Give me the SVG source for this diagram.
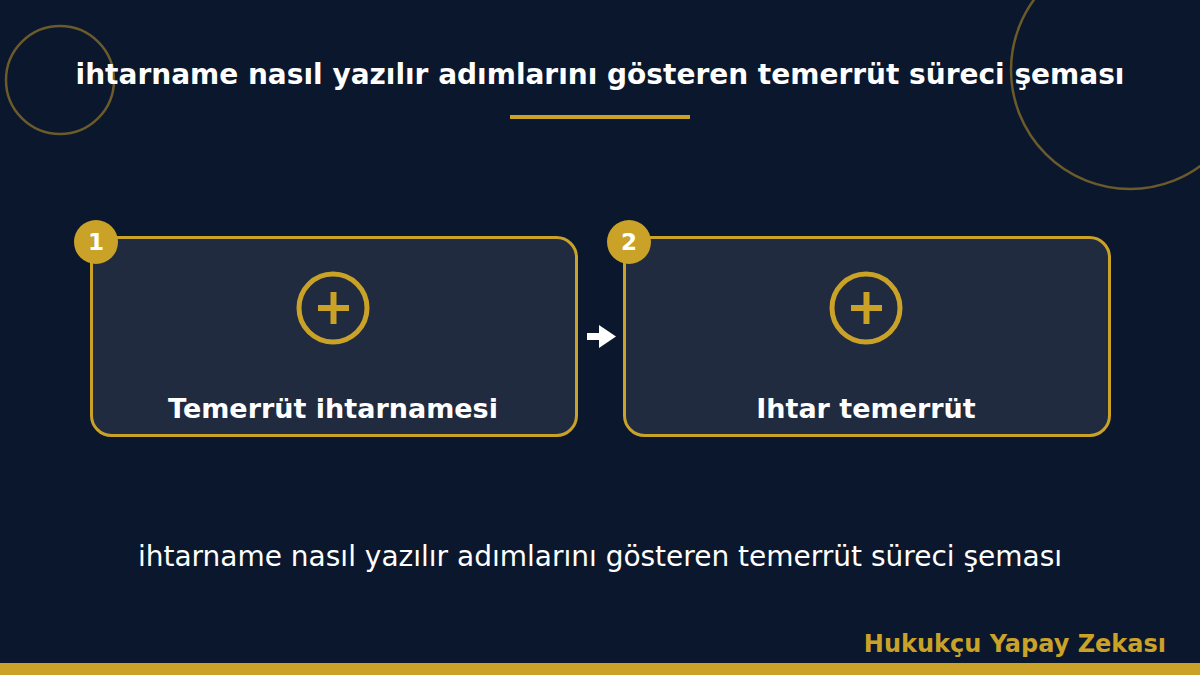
<svg xmlns="http://www.w3.org/2000/svg" width="1200" height="675" viewBox="0 0 1200 675">
<style>
.bg{fill:#0b172d}
.deco{fill:none;stroke:#6b5a2a;stroke-width:2.5}
.card{fill:#212b40;stroke:#c9a227;stroke-width:3}
.badge{fill:#c9a227}
.badgeT{fill:#ffffff;font-family:"DejaVu Sans",sans-serif;font-weight:bold;font-size:23px;text-anchor:middle}
.icon{fill:none;stroke:#c9a227;stroke-width:5}
.plus{stroke:#c9a227;stroke-width:6}
.label{fill:#ffffff;font-family:"DejaVu Sans",sans-serif;font-weight:bold;font-size:27px;text-anchor:middle}
.title{fill:#ffffff;font-family:"DejaVu Sans",sans-serif;font-weight:bold;font-size:28px;text-anchor:middle}
.sub{fill:#ffffff;font-family:"DejaVu Sans",sans-serif;font-size:28px;text-anchor:middle}
.foot{fill:#c9a227;font-family:"DejaVu Sans",sans-serif;font-weight:bold;font-size:24px;text-anchor:end}
</style>
<rect class="bg" x="0" y="0" width="1200" height="675"/>
<circle class="deco" cx="60" cy="80" r="54"/>
<circle class="deco" cx="1130" cy="70" r="119"/>
<text class="title" x="600" y="84">ihtarname nasıl yazılır adımlarını gösteren temerrüt süreci şeması</text>
<rect x="510" y="115" width="180" height="4" fill="#c9a227"/>
<g id="node1">
<rect class="card" x="91.5" y="237.5" width="485" height="198" rx="20"/>
<circle class="icon" cx="333" cy="308" r="34"/>
<line class="plus" x1="318" y1="308" x2="349" y2="308"/>
<line class="plus" x1="333.5" y1="292" x2="333.5" y2="324"/>
<text class="label" x="333" y="418">Temerrüt ihtarnamesi</text>
<circle class="badge" cx="96" cy="242" r="22"/>
<text class="badgeT" x="96" y="250">1</text>
</g>
<g id="node2">
<rect class="card" x="624.5" y="237.5" width="485" height="198" rx="20"/>
<circle class="icon" cx="866" cy="308" r="34"/>
<line class="plus" x1="851" y1="308" x2="882" y2="308"/>
<line class="plus" x1="866.5" y1="292" x2="866.5" y2="324"/>
<text class="label" x="866" y="418">Ihtar temerrüt</text>
<circle class="badge" cx="629" cy="242" r="22"/>
<text class="badgeT" x="629" y="250">2</text>
</g>
<g id="connectors">
<rect x="587" y="333" width="14" height="7" fill="#ffffff"/>
<polygon points="599,325 616,336.5 599,348" fill="#ffffff"/>
</g>
<text class="sub" x="600" y="566">ihtarname nasıl yazılır adımlarını gösteren temerrüt süreci şeması</text>
<text class="foot" x="1166" y="652">Hukukçu Yapay Zekası</text>
<rect x="0" y="663" width="1200" height="12" fill="#c9a227"/>
</svg>
